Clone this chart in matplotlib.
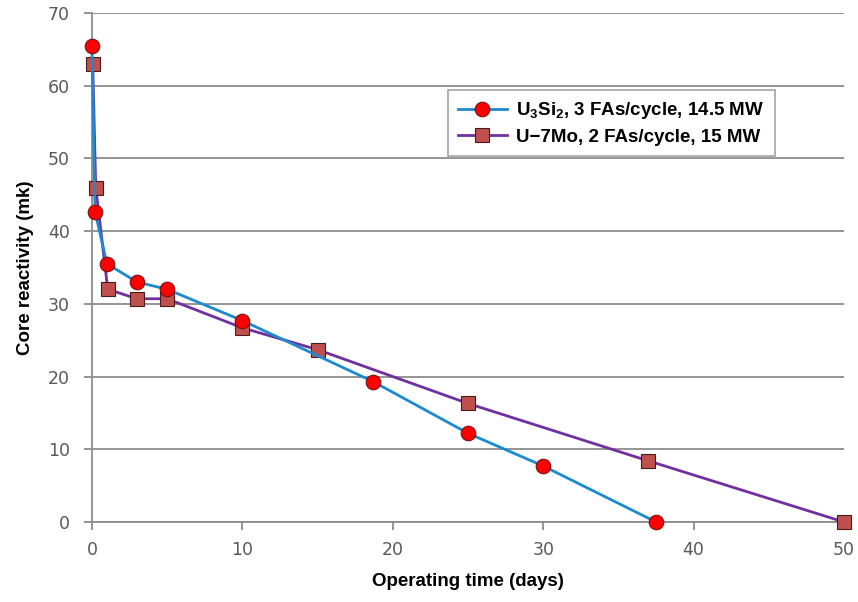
import matplotlib
matplotlib.use('Agg')
import matplotlib.pyplot as plt

# U3Si2 core, 3 FAs per cycle at 14.5 MW
si_days = [0.0, 0.2, 1.0, 3.0, 5.0, 10.0, 18.7, 25.0, 30.0, 37.5]
si_rho = [65.5, 42.7, 35.5, 33.0, 32.0, 27.7, 19.3, 12.2, 7.7, 0.0]

# U-7Mo core, 2 FAs per cycle at 15 MW
mo_days = [0.05, 0.25, 1.05, 3.0, 5.0, 10.0, 15.0, 25.0, 37.0, 50.0]
mo_rho = [63.0, 46.0, 32.0, 30.7, 30.7, 26.7, 23.7, 16.3, 8.4, 0.0]

si_label = r'U$\mathregular{_3}$Si$\mathregular{_2}$, 3 FAs/cycle, 14.5 MW'
mo_label = 'U\u22127Mo, 2 FAs/cycle, 15 MW'

grey = '#8c8c8c'
tickgrey = '#595959'

fig = plt.figure(figsize=(8.58, 6.02), dpi=100)
ax = fig.add_axes([0.1072, 0.1329, 0.8765, 0.8455])

ax.plot(si_days, si_rho, color='#1b8ad0', lw=2, marker='o', ms=10.5,
        mfc='#ff0000', mec='#7a1010', mew=0.8, clip_on=False, zorder=4,
        label=si_label)
ax.plot(mo_days, mo_rho, color='#7030a0', lw=2, marker='s', ms=9.5,
        mfc='#c0504d', mec='#4a1a18', mew=0.8, clip_on=False, zorder=3,
        label=mo_label)

ax.set_xlim(0, 50)
ax.set_ylim(0, 70)
ax.set_xticks(range(0, 51, 10))
ax.set_yticks(range(0, 71, 10))
ax.yaxis.grid(True, color=grey, lw=1.3)
ax.set_axisbelow(True)

for s in ['top', 'right']:
    ax.spines[s].set_visible(False)
for s in ['left', 'bottom']:
    ax.spines[s].set_color(grey)
    ax.spines[s].set_linewidth(1.3)

ax.tick_params(axis='both', colors=grey, width=1.3, length=6,
               labelcolor=tickgrey, labelsize=12.5)
ax.tick_params(axis='x', pad=8)
ax.tick_params(axis='y', pad=10)

ax.set_xlabel('Operating time (days)', fontsize=13.5, fontweight='bold',
              family='Liberation Sans', labelpad=10)
ax.set_ylabel('Core reactivity (mk)', fontsize=13.5, fontweight='bold',
              family='Liberation Sans', labelpad=10)

leg = ax.legend(loc='upper left', bbox_to_anchor=(0.473, 0.849),
                prop={'family': 'Liberation Sans', 'weight': 'bold', 'size': 13.5},
                frameon=True, fancybox=False, borderpad=0.55, borderaxespad=0,
                handlelength=2.6, handletextpad=0.5, labelspacing=0.4)
leg.get_frame().set_edgecolor(grey)
leg.get_frame().set_linewidth(1.2)

fig.savefig('out.png', dpi=100)
